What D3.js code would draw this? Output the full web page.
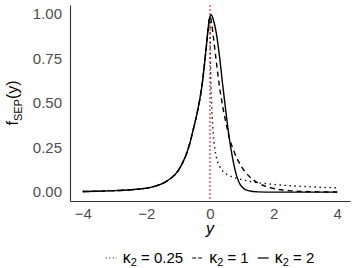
<!DOCTYPE html>
<html>
<head>
<meta charset="utf-8">
<script src="https://cdn.jsdelivr.net/npm/d3@7"></script>
<style>
  body { margin: 0; background: #fff; }
  svg { display: block; font-family: "Liberation Sans", Arial, sans-serif; }
</style>
</head>
<body>
<svg id="chart" width="357" height="268"></svg>
<script>
// left half is the same for every kappa_2
const xLeft = [-4, -3.5, -3, -2.5, -2, -1.75, -1.5, -1.25, -1, -0.875, -0.75, -0.625, -0.5, -0.375, -0.25, -0.125, -0.0625];
const fLeft = [0.003, 0.005, 0.008, 0.013, 0.022, 0.032, 0.048, 0.075, 0.12, 0.16, 0.21, 0.28, 0.37, 0.47, 0.60, 0.80, 0.91];

// right half, kappa_2 = 0.25 (dotted)
const xRight025 = [0, 0.01, 0.025, 0.05, 0.1, 0.15, 0.2, 0.3, 0.45, 0.6, 0.8, 1, 1.5, 2, 2.5, 3, 3.5, 4];
const fRight025 = [0.985, 0.80, 0.64, 0.50, 0.33, 0.245, 0.195, 0.145, 0.11, 0.093, 0.08, 0.07, 0.053, 0.043, 0.036, 0.031, 0.027, 0.024];

// right half, kappa_2 = 1 (dashed)
const xRight1 = [0, 0.05, 0.1, 0.2, 0.3, 0.4, 0.5, 0.6, 0.75, 1, 1.25, 1.5, 1.75, 2, 2.5, 3, 3.5, 4];
const fRight1 = [0.985, 0.95, 0.88, 0.73, 0.59, 0.48, 0.39, 0.31, 0.23, 0.14, 0.085, 0.052, 0.032, 0.02, 0.008, 0.003, 0.001, 0.0005];

// right half, kappa_2 = 2 (solid)
const xRight2 = [0, 0.04, 0.1, 0.2, 0.3, 0.4, 0.5, 0.6, 0.7, 0.8, 0.9, 1.0, 1.2, 1.5, 2, 3, 4];
const fRight2 = [0.985, 0.995, 0.97, 0.89, 0.76, 0.60, 0.45, 0.31, 0.20, 0.115, 0.06, 0.03, 0.008, 0.001, 0, 0, 0];

const kappaLabels = ["0.25", "1", "2"];
const xTicks = [-4, -2, 0, 2, 4];
const yTicks = [0, 0.25, 0.5, 0.75, 1];

const series = [
  { label: kappaLabels[0], xs: xRight025, fs: fRight025, dash: "1.4,3.6", keyDash: "1,2.5" },
  { label: kappaLabels[1], xs: xRight1, fs: fRight1, dash: "5,4", keyDash: "4,2" },
  { label: kappaLabels[2], xs: xRight2, fs: fRight2, dash: null, keyDash: null }
].map(s => ({
  ...s,
  points: xLeft.map((x, i) => [x, fLeft[i]]).concat(s.xs.map((x, i) => [x, s.fs[i]]))
}));

const svg = d3.select("#chart");
const margin = { top: 5, right: 7, bottom: 67, left: 70 };
const width = 357, height = 268;
const innerWidth = width - margin.left - margin.right;
const innerHeight = height - margin.top - margin.bottom;

const g = svg.append("g")
  .attr("transform", `translate(${margin.left},${margin.top})`);

// ggplot style 5% expansion
const x = d3.scaleLinear().domain([-4.4, 4.4]).range([0, innerWidth]);
const y = d3.scaleLinear().domain([-0.05, 1.05]).range([innerHeight, 0]);

// y axis
const yAxis = g.append("g")
  .call(d3.axisLeft(y).tickValues(yTicks).tickFormat(d3.format(".2f")).tickSize(0).tickPadding(8));
yAxis.select(".domain").attr("stroke", "#333").attr("stroke-width", 1.1);
yAxis.selectAll("text")
  .style("font-size", "15px")
  .attr("fill", "#4d4d4d");

// x axis
const xAxis = g.append("g")
  .attr("transform", `translate(0,${innerHeight})`)
  .call(d3.axisBottom(x).tickValues(xTicks).tickSize(0).tickPadding(7));
xAxis.select(".domain").attr("stroke", "#333").attr("stroke-width", 1.1);
xAxis.selectAll("text")
  .style("font-size", "15px")
  .attr("fill", "#4d4d4d");

// vertical reference at 0
g.append("line")
  .attr("x1", x(0)).attr("x2", x(0))
  .attr("y1", 0).attr("y2", innerHeight)
  .attr("stroke", "#ff0000")
  .attr("stroke-width", 1)
  .attr("stroke-dasharray", "2,2");

const line = d3.line()
  .x(d => x(d[0]))
  .y(d => y(d[1]))
  .curve(d3.curveMonotoneX);

g.selectAll(".curve")
  .data(series)
  .join("path")
  .attr("class", "curve")
  .attr("d", d => line(d.points))
  .attr("fill", "none")
  .attr("stroke", "#000")
  .attr("stroke-width", 1.4)
  .attr("stroke-dasharray", d => d.dash);

// axis titles
svg.append("text")
  .attr("x", margin.left + x(0))
  .attr("y", 234)
  .attr("text-anchor", "middle")
  .style("font-size", "16px")
  .style("font-style", "italic")
  .text("y");

const yTitle = svg.append("text")
  .attr("transform", `translate(18,${margin.top + innerHeight / 2}) rotate(-90)`)
  .attr("text-anchor", "middle")
  .style("font-size", "16px");
yTitle.append("tspan").text("f");
yTitle.append("tspan").attr("dy", 4).style("font-size", "11px").text("SEP");
yTitle.append("tspan").attr("dy", -4).text("(y)");

// legend
const legend = svg.append("g").attr("class", "legend");
const keyW = 11, keyGap = 6, itemGap = 9;
let cursor = 0;
series.forEach(s => {
  const item = legend.append("g").attr("transform", `translate(${cursor},0)`);
  item.append("line")
    .attr("x1", 0).attr("x2", keyW)
    .attr("y1", 0).attr("y2", 0)
    .attr("stroke", "#000")
    .attr("stroke-width", 1.2)
    .attr("stroke-dasharray", s.keyDash);
  const t = item.append("text")
    .attr("x", keyW + keyGap)
    .attr("y", 5)
    .style("font-size", "15px");
  t.append("tspan").style("font-size", "16px").text("\u03ba");
  t.append("tspan").attr("dy", 2.5).style("font-size", "11px").text("2");
  t.append("tspan").attr("dy", -2.5).text(" = " + s.label);
  cursor += keyW + keyGap + t.node().getComputedTextLength() + itemGap;
});
const legendWidth = cursor - itemGap;
legend.attr("transform", `translate(${margin.left + x(0) - legendWidth / 2},258)`);
</script>
</body>
</html>
